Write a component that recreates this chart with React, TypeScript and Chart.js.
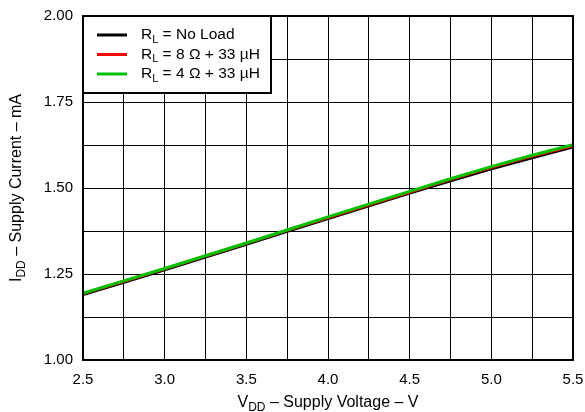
import React, { useEffect, useRef } from "react";
import { Chart, registerables } from "chart.js";

Chart.register(...registerables);

// Supply voltage (V)
const voltages = [2.5, 2.75, 3.0, 3.25, 3.5, 3.75, 4.0, 4.25, 4.5, 4.75, 5.0, 5.25, 5.5];
// Supply current (mA)
const noLoad = [1.190, 1.226, 1.262, 1.299, 1.336, 1.374, 1.411, 1.448, 1.485, 1.521, 1.556, 1.588, 1.619];
const load8ohm = [1.193, 1.229, 1.265, 1.302, 1.339, 1.377, 1.414, 1.451, 1.488, 1.525, 1.560, 1.593, 1.623];
const load4ohm = [1.194, 1.230, 1.266, 1.303, 1.340, 1.378, 1.416, 1.453, 1.490, 1.527, 1.562, 1.595, 1.626];

const seriesNames = ["No Load", "8 \u03A9 + 33 \u00B5H", "4 \u03A9 + 33 \u00B5H"];
const seriesColors = ["#000000", "#ff0000", "#00c000"];

const FONT = "'Liberation Sans', Arial, sans-serif";

function drawSubText(
  ctx: CanvasRenderingContext2D,
  x: number,
  y: number,
  main: string,
  sub: string,
  rest: string,
  size: number,
  measureOnly = false
): number {
  const big = `${size}px ${FONT}`;
  const small = `${Math.round(size * 0.72)}px ${FONT}`;
  ctx.font = big;
  const w1 = ctx.measureText(main).width;
  const w3 = ctx.measureText(rest).width;
  ctx.font = small;
  const w2 = ctx.measureText(sub).width;
  if (!measureOnly) {
    ctx.font = big;
    ctx.fillText(main, x, y);
    ctx.font = small;
    ctx.fillText(sub, x + w1, y + size * 0.3);
    ctx.font = big;
    ctx.fillText(rest, x + w1 + w2, y);
  }
  return w1 + w2 + w3;
}

const overlayPlugin = {
  id: "overlay",
  afterDraw(chart: any) {
    const { ctx, chartArea: a } = chart;
    ctx.save();
    // frame
    ctx.strokeStyle = "#000";
    ctx.lineWidth = 2;
    ctx.strokeRect(a.left, a.top, a.right - a.left, a.bottom - a.top);

    // legend
    const lx = a.left;
    const ly = a.top;
    const lw = 188;
    const lh = 77;
    ctx.fillStyle = "#fff";
    ctx.fillRect(lx, ly, lw, lh);
    ctx.strokeRect(lx, ly, lw, lh);
    ctx.textBaseline = "middle";
    ctx.textAlign = "left";
    seriesNames.forEach((name, i) => {
      const y = ly + 19 + i * 19.5;
      ctx.strokeStyle = seriesColors[i];
      ctx.lineWidth = 3;
      ctx.beginPath();
      ctx.moveTo(lx + 14, y);
      ctx.lineTo(lx + 44, y);
      ctx.stroke();
      ctx.fillStyle = "#000";
      drawSubText(ctx, lx + 58, y, "R", "L", " = " + name, 15.5);
    });

    // x axis title
    ctx.fillStyle = "#000";
    ctx.textBaseline = "middle";
    const xt = ["V", "DD", " \u2013 Supply Voltage \u2013 V"] as const;
    const wx = drawSubText(ctx, 0, 0, xt[0], xt[1], xt[2], 16, true);
    drawSubText(ctx, (a.left + a.right) / 2 - wx / 2, 403, xt[0], xt[1], xt[2], 16);

    // y axis title
    const yt = ["I", "DD", " \u2013 Supply Current \u2013 mA"] as const;
    const wy = drawSubText(ctx, 0, 0, yt[0], yt[1], yt[2], 16, true);
    ctx.translate(17, (a.top + a.bottom) / 2);
    ctx.rotate(-Math.PI / 2);
    drawSubText(ctx, -wy / 2, 0, yt[0], yt[1], yt[2], 16);
    ctx.restore();
  },
};

export default function App() {
  const canvasRef = useRef<HTMLCanvasElement | null>(null);

  useEffect(() => {
    if (!canvasRef.current) return;
    const mk = (vals: number[]) => voltages.map((v, i) => ({ x: v, y: vals[i] }));
    const chart = new Chart(canvasRef.current, {
      type: "line",
      data: {
        datasets: [
          { label: seriesNames[0], data: mk(noLoad), borderColor: seriesColors[0], borderWidth: 3, pointRadius: 0, order: 3, tension: 0 },
          { label: seriesNames[1], data: mk(load8ohm), borderColor: seriesColors[1], borderWidth: 3, pointRadius: 0, order: 2, tension: 0 },
          { label: seriesNames[2], data: mk(load4ohm), borderColor: seriesColors[2], borderWidth: 3, pointRadius: 0, order: 1, tension: 0 },
        ],
      },
      options: {
        animation: false,
        responsive: false,
        devicePixelRatio: 1,
        layout: { padding: { top: 16, right: 12, left: 0, bottom: 0 } },
        plugins: { legend: { display: false }, tooltip: { enabled: false } },
        scales: {
          x: {
            type: "linear",
            min: 2.5,
            max: 5.5,
            afterFit: (s: any) => { s.height = 52; s.paddingLeft = 0; s.paddingRight = 0; },
            ticks: {
              stepSize: 0.25,
              autoSkip: false,
              maxRotation: 0,
              padding: 11,
              color: "#000",
              font: { family: FONT, size: 15 },
              callback: (v: any) => {
                const n = Number(v);
                return Math.abs(n * 2 - Math.round(n * 2)) < 1e-6 ? n.toFixed(1) : "";
              },
            },
            grid: { color: "#000", lineWidth: 1, drawTicks: false },
            border: { display: false },
          },
          y: {
            type: "linear",
            min: 1.0,
            max: 2.0,
            afterFit: (s: any) => { s.width = 83; s.paddingTop = 0; s.paddingBottom = 0; },
            ticks: {
              stepSize: 0.125,
              autoSkip: false,
              padding: 10,
              color: "#000",
              font: { family: FONT, size: 15 },
              callback: (v: any) => {
                const n = Number(v);
                return Math.abs(n * 4 - Math.round(n * 4)) < 1e-6 ? n.toFixed(2) : "";
              },
            },
            grid: { color: "#000", lineWidth: 1, drawTicks: false },
            border: { display: false },
          },
        },
      },
      plugins: [overlayPlugin],
    });
    return () => chart.destroy();
  }, []);

  return (
    <div style={{ position: "fixed", left: 0, top: 0, width: 585, height: 412, background: "#fff" }}>
      <canvas ref={canvasRef} width={585} height={412} />
    </div>
  );
}
